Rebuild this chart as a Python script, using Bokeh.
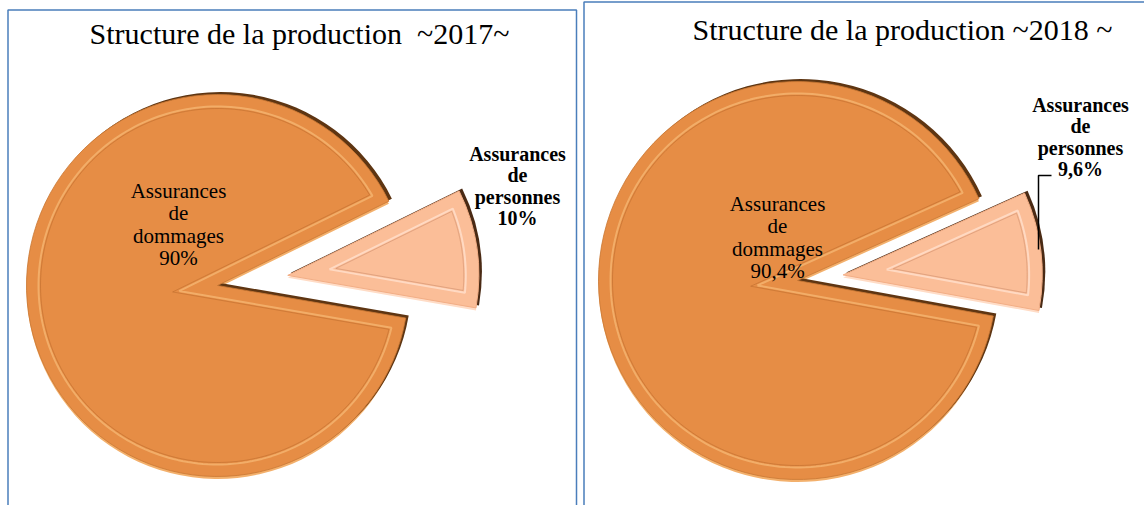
import numpy as np
from bokeh.plotting import figure
from bokeh.models import Range1d
from bokeh.core.properties import value
from bokeh.embed import file_html
from bokeh.resources import INLINE

# ---------------- data ----------------
years = ["2017", "2018"]
titles = ["Structure de la production \u00a0~2017~", "Structure de la production ~2018 ~"]
cat_big = ["Assurances", "de", "dommages"]
cat_small = ["Assurances", "de", "personnes"]
dommages = [90.0, 90.4]
personnes = [10.0, 9.6]

# ---------------- layout (screen px -> data) ----------------
W, H = 1144, 505
def Y(sy):
    return H - sy

layout = [
    dict(cx=217, cy=Y(285), r=191, explode=71, a0=-9.8,
         title=(299, Y(33)), big_lab=(178, Y(190)), small_lab=(517, Y(153)), leader=None),
    dict(cx=797, cy=Y(280), r=199, explode=46, a0=-10.3,
         title=(902, Y(29)), big_lab=(777, Y(203)), small_lab=(1080, Y(104)),
         leader=([1038, 1038, 1051], [Y(249), Y(175), Y(175)])),
]

BIG = "#E68D45"
BIG_DARK = "#5E3512"
BIG_LIGHT = "#F3B06C"
SMALL = "#FBBE98"
SMALL_DARK = "#4A2A14"
SMALL_LIGHT = "#FFDCC6"
FONT = value("Liberation Serif")


def fmt(v):
    return f"{v:g}".replace(".", ",") + "%"


def inset_outline(cx, cy, r, a1, a2, d, n=200):
    """Outline of a wedge shrunk inward by d (concentric arc, parallel radial edges)."""
    a1r, a2r = np.radians(a1), np.radians(a2)
    th = a2r - a1r
    mid = a1r + th / 2
    k = d / np.sin(th / 2)
    ax, ay = cx + k * np.cos(mid), cy + k * np.sin(mid)
    R = r - d
    dl = np.arctan2(d, np.sqrt(R * R - d * d))
    ang = np.linspace(a1r + dl, a2r - dl, n)
    xs = np.concatenate([[ax], cx + R * np.cos(ang), [ax]])
    ys = np.concatenate([[ay], cy + R * np.sin(ang), [ay]])
    return xs, ys


def wedge(p, x, y, r, a1, a2, **kw):
    p.wedge(x=[x], y=[y], radius=r, start_angle=np.radians(a1), end_angle=np.radians(a2),
            direction="anticlock", **kw)


p = figure(width=W, height=H, output_backend="svg", toolbar_location=None,
           x_range=Range1d(0, W), y_range=Range1d(0, H), min_border=0)
p.axis.visible = False
p.grid.visible = False
p.outline_line_color = None
p.background_fill_color = "white"

# panel borders
p.line([7.5, 7.5, 576, 576], [-5, Y(9.5), Y(9.5), -5], line_color="#4A7EBB", line_width=1.5)
p.line([583.5, 583.5, 1150], [-5, Y(1.5), Y(1.5)], line_color="#4A7EBB", line_width=1.5)

for i, L in enumerate(layout):
    cx, cy, r = L["cx"], L["cy"], L["r"]
    a0 = L["a0"]
    s_end = a0 + 360 * personnes[i] / 100.0
    b_start, b_end = s_end, a0 + 360
    mid = np.radians((a0 + s_end) / 2)
    sx, sy = cx + L["explode"] * np.cos(mid), cy + L["explode"] * np.sin(mid)

    # big slice: light rim (below), dark shadow (up-right), body
    wedge(p, cx, cy - 2.5, r, b_start, b_end, fill_color=BIG_LIGHT, line_color=None)
    wedge(p, cx + 3, cy + 2.5, r, b_start, b_end, fill_color=BIG_DARK, line_color=None)
    wedge(p, cx, cy, r, b_start, b_end, fill_color=BIG, line_color="#C97835",
          line_width=1, line_alpha=0.8)
    xs, ys = inset_outline(cx, cy, r, b_start, b_end, 12)
    p.line(xs, ys, line_color=BIG_LIGHT, line_width=2, line_alpha=0.9)
    xs, ys = inset_outline(cx, cy, r, b_start, b_end, 14)
    p.line(xs, ys, line_color="#BF6E2E", line_width=1, line_alpha=0.6)

    # small slice (exploded)
    wedge(p, sx, sy - 2.5, r, a0, s_end, fill_color=SMALL_LIGHT, line_color=None)
    wedge(p, sx + 3, sy + 2.5, r, a0, s_end, fill_color=SMALL_DARK, line_color=None)
    wedge(p, sx, sy, r, a0, s_end, fill_color=SMALL, line_color="#F2AE86", line_width=1)
    xs, ys = inset_outline(sx, sy, r, a0, s_end, 13)
    p.line(xs, ys, line_color=SMALL_LIGHT, line_width=2, line_alpha=0.9)
    xs, ys = inset_outline(sx, sy, r, a0, s_end, 15)
    p.line(xs, ys, line_color="#D0906E", line_width=1, line_alpha=0.6)

    # title
    p.text(x=[L["title"][0]], y=[L["title"][1]], text=[titles[i]], text_font=FONT,
           text_font_size="30px", text_align="center", text_baseline="middle",
           text_color="black")

    # big-slice label
    lines = cat_big + [fmt(dommages[i])]
    bx, by = L["big_lab"]
    p.text(x=[bx] * 4, y=[by - 22.6 * k for k in range(4)], text=lines, text_font=FONT,
           text_font_size="21px", text_align="center", text_baseline="middle",
           text_color="black")

    # small-slice label
    lines = cat_small + [fmt(personnes[i])]
    lx, ly = L["small_lab"]
    p.text(x=[lx] * 4, y=[ly - 21.6 * k for k in range(4)], text=lines, text_font=FONT,
           text_font_size="20px", text_font_style="bold", text_align="center",
           text_baseline="middle", text_color="black")

    if L["leader"] is not None:
        p.line(L["leader"][0], L["leader"][1], line_color="black", line_width=1.5)

open("out.html", "w").write(file_html(p, INLINE))
